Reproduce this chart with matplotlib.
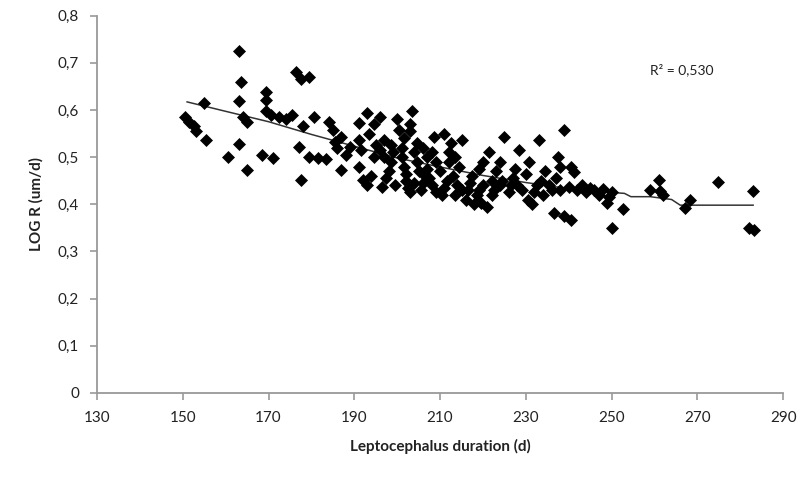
import matplotlib.pyplot as plt
import numpy as np

plt.rcParams['font.family'] = ['Lato', 'DejaVu Sans']

# (duration d, LOG R) pairs
points = [
    (150.5, 0.585), (151.5, 0.575), (152.5, 0.565), (153, 0.555), (155.5, 0.537), (155, 0.615),
    (160.5, 0.501), (163, 0.724), (163.5, 0.660), (163, 0.618), (164, 0.584), (165, 0.575),
    (163, 0.527), (165, 0.473), (168.5, 0.505), (171, 0.499), (169.5, 0.637), (169.5, 0.622),
    (169.5, 0.597), (170.5, 0.59), (172.5, 0.585), (175.5, 0.59), (174, 0.58),
    (176.5, 0.68), (177.5, 0.665), (179.5, 0.67), (177, 0.522), (177.5, 0.452), (178, 0.565),
    (180.5, 0.586), (184, 0.575), (179.5, 0.501), (181.5, 0.499), (183.5, 0.495), (185.5, 0.533),
    (187, 0.543), (185, 0.558), (189, 0.522), (191, 0.537), (191.5, 0.516), (191, 0.573),
    (193, 0.594), (187, 0.473), (191, 0.478), (188, 0.505), (186, 0.52),
    (192, 0.452), (193, 0.44), (194, 0.46), (194.5, 0.50), (195, 0.525), (193.5, 0.548), (194.5, 0.57),
    (196, 0.586), (197, 0.537), (196.5, 0.437), (197.5, 0.455), (198, 0.47), (198.5, 0.49),
    (199, 0.51), (200, 0.58), (199.5, 0.44), (196, 0.515), (197, 0.5), (198.5, 0.525),
    (200.5, 0.558), (201.5, 0.541), (201, 0.52), (201, 0.5), (201.5, 0.48), (202, 0.465),
    (202, 0.45), (202.5, 0.435), (203, 0.425), (203.5, 0.597), (203, 0.57), (204, 0.51),
    (204.5, 0.49), (204, 0.445), (203, 0.555), (204.5, 0.53), (205, 0.47),
    (205.5, 0.43), (206, 0.445), (206.5, 0.46), (207, 0.475), (207, 0.5), (206, 0.52),
    (207.5, 0.455), (208.5, 0.543), (208, 0.44), (209, 0.425), (209, 0.49), (208, 0.51),
    (210, 0.47), (210.5, 0.42), (211, 0.548), (211, 0.435), (211.5, 0.45), (212, 0.49),
    (212, 0.51), (212.5, 0.53), (213, 0.46), (213.5, 0.42), (214, 0.44), (215, 0.537),
    (215, 0.431), (214.5, 0.48), (213.5, 0.5),
    (216, 0.41), (217, 0.445), (217.5, 0.46), (218, 0.40), (218.5, 0.42), (219, 0.43),
    (219.5, 0.403), (219, 0.475), (220, 0.49), (220, 0.44), (216.5, 0.43),
    (221, 0.395), (221.5, 0.51), (222, 0.45), (222.5, 0.43), (223, 0.47), (224, 0.44),
    (224.9, 0.543), (224.5, 0.45), (224, 0.49), (222, 0.42),
    (226, 0.425), (226.5, 0.44), (227, 0.455), (228, 0.44), (228.4, 0.516), (229, 0.43),
    (230.5, 0.41), (230.7, 0.49), (230, 0.465), (227.5, 0.475),
    (231.5, 0.40), (232, 0.425), (232.5, 0.44), (233, 0.537), (233.5, 0.45), (234, 0.42),
    (234.5, 0.47),
    (235.5, 0.44), (236, 0.43), (236.5, 0.382), (237.4, 0.501), (238, 0.48), (238.8, 0.374),
    (238.8, 0.558), (237, 0.455), (238, 0.43),
    (240.5, 0.367), (240.5, 0.48), (241.2, 0.469), (240, 0.437), (242, 0.43), (243, 0.44),
    (244, 0.425), (245, 0.435), (246, 0.43), (247, 0.42), (248, 0.433),
    (249, 0.403), (250.2, 0.425), (252.6, 0.389), (250.2, 0.350), (249.5, 0.415),
    (259, 0.431), (261, 0.452), (261.4, 0.427), (262, 0.42), (267.2, 0.393), (268.4, 0.41),
    (274.7, 0.448), (283, 0.427), (282, 0.350), (283.2, 0.346),
]
duration = [p[0] for p in points]
log_r = [p[1] for p in points]

# trend line as drawn
trend_x = [151, 160, 170, 180, 190, 200, 210, 220, 230, 240, 250, 253, 254.5, 259, 264, 266, 283]
trend_y = [0.617, 0.597, 0.575, 0.548, 0.523, 0.498, 0.479, 0.461, 0.446, 0.433, 0.425, 0.423,
           0.416, 0.416, 0.41, 0.398, 0.398]

fig = plt.figure(figsize=(8.09, 4.88), dpi=100)
ax = fig.add_axes([0.12, 0.195, 0.848, 0.773])

ax.plot(duration, log_r, 'D', color='black', markersize=6.5, markeredgewidth=0.5, zorder=3)
ax.plot(trend_x, trend_y, color='#333333', linewidth=1.1, zorder=2)

ax.text(259, 0.675, 'R² = 0,530', fontsize=10, color='#222222')

ax.set_xlim(130, 290)
ax.set_ylim(0, 0.8)
ax.set_xticks(np.arange(130, 291, 20))
ax.set_yticks(np.arange(0, 0.81, 0.1))
ax.set_yticklabels(['0' if v == 0 else f'{v:.1f}'.replace('.', ',') for v in np.arange(0, 0.81, 0.1)])

for side in ['top', 'right']:
    ax.spines[side].set_visible(False)
for side in ['left', 'bottom']:
    ax.spines[side].set_color('#999999')
    ax.spines[side].set_linewidth(1.3)
ax.tick_params(colors='#999999', labelcolor='#222222', labelsize=11, length=5, width=1.2)
ax.tick_params(axis='x', pad=8)
ax.tick_params(axis='y', pad=8)

ax.set_xlabel('Leptocephalus duration (d)', fontsize=11, fontweight='bold', color='#222222', labelpad=10)
ax.set_ylabel('LOG R (um/d)', fontsize=11, fontweight='bold', color='#222222', labelpad=10)

fig.savefig('out.png', dpi=100)
